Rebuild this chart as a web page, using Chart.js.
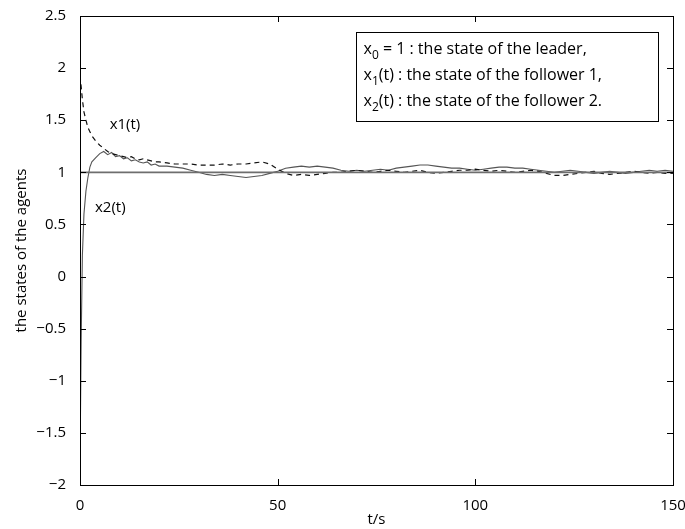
<!DOCTYPE html>
<html>
<head>
<meta charset="utf-8">
<script src="https://cdn.jsdelivr.net/npm/chart.js@4/dist/chart.umd.min.js"></script>
<style>
  body { margin: 0; background: #fff; }
  #wrap { width: 685px; height: 529px; }
</style>
</head>
<body>
<div id="wrap"><canvas id="myChart"></canvas></div>
<script>
// time samples (s)
const t = [0, 0.3, 0.6, 1, 1.5, 2, 2.5, 3, 4, 5, 6, 7, 8, 9, 10, 11, 12, 13, 14, 15, 16, 17, 18, 19, 20,
  22, 24, 26, 28, 30, 32, 34, 36, 38, 40, 42, 44, 46, 48, 50, 52, 54, 56, 58, 60, 62, 64, 66, 68, 70,
  72, 74, 76, 78, 80, 82, 84, 86, 88, 90, 92, 94, 96, 98, 100, 102, 104, 106, 108, 110, 112, 114, 116,
  118, 120, 122, 124, 126, 128, 130, 132, 134, 136, 138, 140, 142, 144, 146, 148, 150];

// follower 1 (dashed)
const x1 = [1.93, 1.82, 1.7, 1.58, 1.5, 1.43, 1.39, 1.35, 1.3, 1.26, 1.23, 1.2, 1.18, 1.17, 1.16, 1.15, 1.14, 1.15, 1.13, 1.12, 1.13, 1.12, 1.11, 1.1, 1.1,
  1.09, 1.08, 1.08, 1.08, 1.07, 1.07, 1.07, 1.08, 1.07, 1.08, 1.08, 1.09, 1.1, 1.08, 1.03, 0.99, 0.97, 0.98, 0.97, 0.98,
  0.99, 1.0, 1.0, 1.01, 1.02, 1.01, 1.0, 1.01, 1.02, 1.01, 1.0, 1.01, 1.02, 1.0, 0.99, 1.0, 1.01, 1.02, 1.02, 1.03,
  1.02, 1.01, 1.02, 1.01, 1.0, 1.01, 1.02, 1.01, 0.99, 0.97, 0.97, 0.98, 0.99, 1.0, 1.01, 0.99, 0.98, 0.99, 1.0,
  1.01, 1.0, 0.99, 1.0, 0.99, 0.99];

// follower 2 (solid)
const x2 = [-1.8, -0.6, 0.2, 0.6, 0.82, 0.95, 1.05, 1.1, 1.14, 1.18, 1.2, 1.17, 1.19, 1.15, 1.16, 1.13, 1.14, 1.11, 1.12, 1.1, 1.09, 1.1, 1.07, 1.08, 1.06,
  1.06, 1.05, 1.04, 1.02, 1.0, 0.98, 0.97, 0.98, 0.97, 0.96, 0.95, 0.96, 0.97, 0.99, 1.01, 1.04, 1.05, 1.06, 1.05, 1.06,
  1.05, 1.04, 1.02, 1.01, 1.02, 1.01, 1.02, 1.03, 1.02, 1.04, 1.05, 1.06, 1.07, 1.07, 1.06, 1.05, 1.04, 1.04, 1.03, 1.02,
  1.03, 1.04, 1.05, 1.05, 1.04, 1.04, 1.03, 1.02, 1.01, 1.0, 1.01, 1.02, 1.01, 1.0, 0.99, 1.0, 1.01, 1.0, 0.99,
  1.0, 1.01, 1.02, 1.01, 1.02, 1.01];

// leader state
const leaderT = [0, 150];
const leader = [1, 1];

const xTicks = [0, 50, 100, 150];
const legendLines = [
  ['x', '0', ' = 1 : the state of the leader,'],
  ['x', '1', '(t) : the state of the follower 1,'],
  ['x', '2', '(t) : the state of the follower 2.']
];

const FONT = '"Open Sans", sans-serif';

function pts(xs, ys) {
  return xs.map((v, i) => ({ x: v, y: ys[i] }));
}

// box, inward ticks, legend box and curve labels
const matlabFrame = {
  id: 'matlabFrame',
  afterDraw(chart) {
    const ctx = chart.ctx;
    const a = chart.chartArea;
    const xs = chart.scales.x, ys = chart.scales.y;
    ctx.save();
    ctx.strokeStyle = '#000';
    ctx.lineWidth = 1;
    ctx.strokeRect(Math.round(a.left) + 0.5, Math.round(a.top) + 0.5,
      Math.round(a.right - a.left), Math.round(a.bottom - a.top));

    ctx.beginPath();
    xTicks.forEach(v => {
      const px = Math.round(xs.getPixelForValue(v)) + 0.5;
      ctx.moveTo(px, a.bottom); ctx.lineTo(px, a.bottom - 6);
      ctx.moveTo(px, a.top); ctx.lineTo(px, a.top + 6);
    });
    ys.ticks.forEach(tk => {
      const py = Math.round(ys.getPixelForValue(tk.value)) + 0.5;
      ctx.moveTo(a.left, py); ctx.lineTo(a.left + 6, py);
      ctx.moveTo(a.right, py); ctx.lineTo(a.right - 6, py);
    });
    ctx.stroke();

    // legend box
    const bx = 356.5, by = 32.5, bw = 302, bh = 89;
    ctx.fillStyle = '#fff';
    ctx.fillRect(bx, by, bw, bh);
    ctx.strokeRect(bx, by, bw, bh);
    ctx.fillStyle = '#000';
    ctx.textBaseline = 'alphabetic';
    ctx.textAlign = 'left';
    legendLines.forEach((ln, i) => {
      const y = by + 21 + i * 26;
      let x = bx + 7;
      ctx.font = '16px ' + FONT;
      ctx.fillText(ln[0], x, y);
      x += ctx.measureText(ln[0]).width;
      ctx.font = '12px ' + FONT;
      ctx.fillText(ln[1], x, y + 5);
      x += ctx.measureText(ln[1]).width;
      ctx.font = '16px ' + FONT;
      ctx.fillText(ln[2], x, y);
    });

    // curve labels
    ctx.font = '15px ' + FONT;
    ctx.fillText('x1(t)', xs.getPixelForValue(7.5), ys.getPixelForValue(1.42));
    ctx.fillText('x2(t)', xs.getPixelForValue(3.8), ys.getPixelForValue(0.62));
    ctx.restore();
  }
};

const context = document.getElementById('myChart').getContext('2d');
const myChart = new Chart(context, {
  type: 'line',
  data: {
    datasets: [
      {
        label: 'leader',
        data: pts(leaderT, leader),
        borderColor: '#6e6e6e',
        borderWidth: 1.6,
        pointRadius: 0,
        fill: false
      },
      {
        label: 'x1(t)',
        data: pts(t, x1),
        borderColor: '#111',
        borderWidth: 1.2,
        borderDash: [5, 4],
        pointRadius: 0,
        fill: false,
        lineTension: 0
      },
      {
        label: 'x2(t)',
        data: pts(t, x2),
        borderColor: '#555',
        borderWidth: 1.1,
        pointRadius: 0,
        fill: false,
        lineTension: 0
      }
    ]
  },
  options: {
    responsive: true,
    maintainAspectRatio: false,
    animation: false,
    layout: { padding: { left: 0, right: 12, top: 16, bottom: 0 } },
    plugins: {
      legend: { display: false },
      tooltip: { enabled: false }
    },
    scales: {
      x: {
        type: 'linear',
        min: 0,
        max: 150,
        grid: { display: false },
        border: { display: false },
        afterBuildTicks: s => { s.ticks = xTicks.map(v => ({ value: v })); },
        afterFit: s => { s.height = 44; s.paddingLeft = 0; s.paddingRight = 0; },
        ticks: { color: '#000', padding: 4, font: { family: FONT, size: 15 }, maxRotation: 0 },
        title: { display: true, text: 't/s', color: '#000', padding: { top: 0, bottom: 0 }, font: { family: FONT, size: 15 } }
      },
      y: {
        min: -2,
        max: 2.5,
        grid: { display: false },
        border: { display: false },
        afterFit: s => { s.width = 80; s.paddingTop = 0; s.paddingBottom = 0; },
        ticks: {
          stepSize: 0.5,
          color: '#000',
          padding: 6,
          font: { family: FONT, size: 15 },
          callback: v => String(v).replace('-', '\u2212')
        },
        title: { display: true, text: 'the states of the agents', color: '#000', padding: { top: 13, bottom: 0 }, font: { family: FONT, size: 15 } }
      }
    }
  },
  plugins: [matlabFrame]
});
</script>
</body>
</html>
